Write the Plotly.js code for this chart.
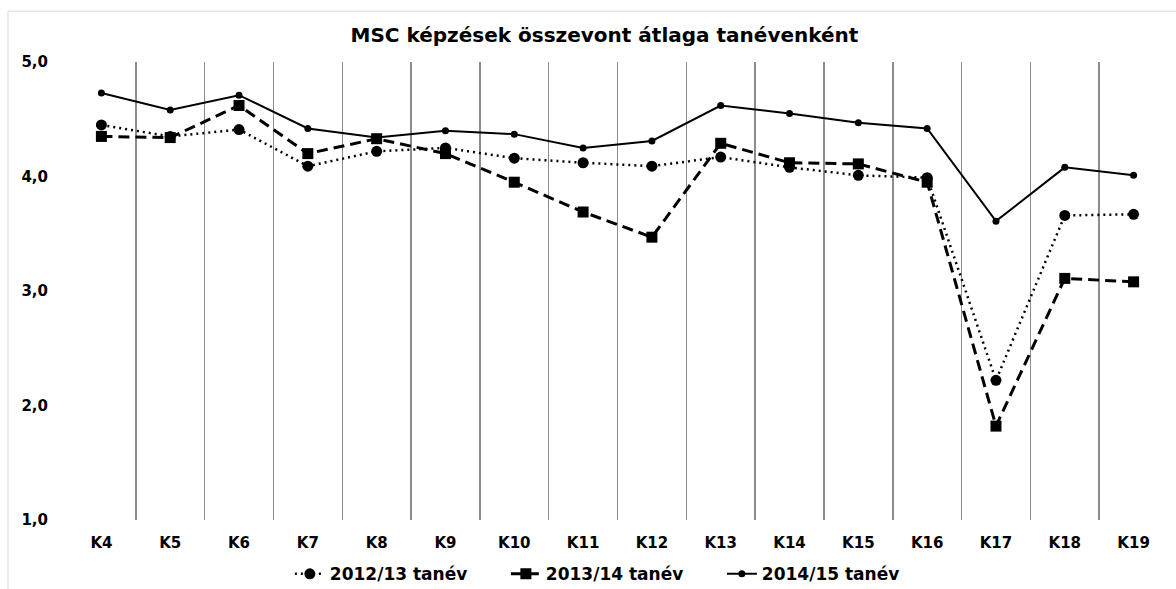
<!DOCTYPE html>
<html>
<head>
<meta charset="utf-8">
<script src="https://cdn.plot.ly/plotly-3.0.1.min.js"></script>
<style>html,body{margin:0;padding:0;background:#fff;}#chart{width:1176px;height:589px;}</style>
</head>
<body>
<div id="chart"></div>
<script>
const categories = ["K4","K5","K6","K7","K8","K9","K10","K11","K12","K13","K14","K15","K16","K17","K18","K19"];
const series1213 = [4.45,4.35,4.41,4.09,4.22,4.25,4.16,4.12,4.09,4.17,4.08,4.01,3.99,2.22,3.66,3.67];
const series1314 = [4.35,4.34,4.62,4.20,4.33,4.20,3.95,3.69,3.47,4.29,4.12,4.11,3.95,1.82,3.11,3.08];
const series1415 = [4.73,4.58,4.71,4.42,4.34,4.40,4.37,4.25,4.31,4.62,4.55,4.47,4.42,3.61,4.08,4.01];
const seriesNames = ["2012/13 tanév","2013/14 tanév","2014/15 tanév"];
const yTicks = [1,2,3,4,5];

const FONT = "'DejaVu Sans', sans-serif";

const traces = [
  {x: categories, y: series1213, name: seriesNames[0], type: "scatter", mode: "lines+markers",
   line: {color: "#000", width: 2.5, dash: "2px,4px"}, marker: {symbol: "circle", size: 11, color: "#000"}},
  {x: categories, y: series1314, name: seriesNames[1], type: "scatter", mode: "lines+markers",
   line: {color: "#000", width: 3, dash: "11px,6px"}, marker: {symbol: "square", size: 11, color: "#000"}},
  {x: categories, y: series1415, name: seriesNames[2], type: "scatter", mode: "lines+markers",
   line: {color: "#000", width: 2}, marker: {symbol: "circle", size: 7, color: "#000"}}
];

const layout = {
  width: 1176, height: 589,
  margin: {l: 67, r: 8, t: 62, b: 69, autoexpand: false},
  paper_bgcolor: "#fff", plot_bgcolor: "#fff",
  separators: ", ",
  font: {family: FONT, color: "#000"},
  title: {text: "<b>MSC képzések összevont átlaga tanévenként</b>", x: 0.514, xanchor: "center",
          yref: "container", y: 0.94, yanchor: "middle",
          font: {family: FONT, size: 20, color: "#000"}},
  xaxis: {type: "category", tickson: "boundaries", showgrid: true, gridcolor: "#8c8c8c", gridwidth: 1.5,
          ticks: "", showline: false, zeroline: false, range: [-0.5, 15.5], ticklabelstandoff: 12,
          tickfont: {family: FONT, size: 15, color: "#000", weight: "bold"}},
  yaxis: {range: [1, 5], tickvals: yTicks, tickformat: ".1f", showgrid: false, zeroline: false, showline: false,
          ticks: "", ticklabelstandoff: 18,
          tickfont: {family: FONT, size: 15, color: "#000", weight: "bold"}},
  legend: {orientation: "h", xref: "container", x: 0.522, xanchor: "center", yref: "container", y: 0.025, yanchor: "middle",
           font: {family: FONT, size: 17, color: "#000", weight: "bold"}, itemwidth: 30,
           entrywidth: 171, entrywidthmode: "pixels"},
  shapes: [
    {type: "rect", xref: "paper", yref: "paper", x0: -0.0536, x1: 1.2, y0: -0.3, y1: 1.111,
     line: {color: "#d9d9d9", width: 1}, fillcolor: "rgba(0,0,0,0)", layer: "below"}
  ],
  showlegend: true
};

Plotly.newPlot("chart", traces, layout, {staticPlot: true, displayModeBar: false});
</script>
</body>
</html>
